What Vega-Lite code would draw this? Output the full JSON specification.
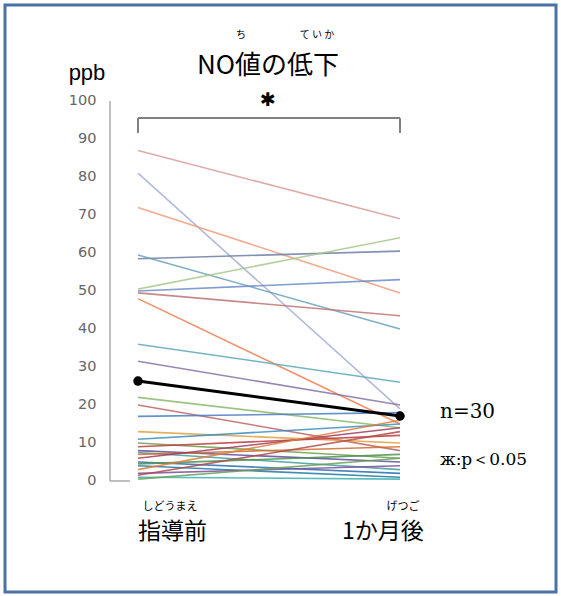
{
  "$schema": "https://vega.github.io/schema/vega-lite/v6.json",
  "width": 551,
  "height": 587,
  "autosize": {"type": "none"},
  "padding": {"left": 5, "top": 5, "right": 5, "bottom": 4},
  "background": "white",
  "config": {"view": {"stroke": "#4a72a6", "strokeWidth": 3}, "font": "Noto Sans CJK JP"},
  "datasets": {
    "subjects": [
      {"id": "s01", "t": 0, "v": 87}, {"id": "s01", "t": 1, "v": 69},
      {"id": "s02", "t": 0, "v": 81}, {"id": "s02", "t": 1, "v": 19},
      {"id": "s03", "t": 0, "v": 72}, {"id": "s03", "t": 1, "v": 49.5},
      {"id": "s04", "t": 0, "v": 58.5}, {"id": "s04", "t": 1, "v": 60.5},
      {"id": "s05", "t": 0, "v": 59.5}, {"id": "s05", "t": 1, "v": 40},
      {"id": "s06", "t": 0, "v": 50.5}, {"id": "s06", "t": 1, "v": 64},
      {"id": "s07", "t": 0, "v": 50}, {"id": "s07", "t": 1, "v": 53},
      {"id": "s08", "t": 0, "v": 49.5}, {"id": "s08", "t": 1, "v": 43.5},
      {"id": "s09", "t": 0, "v": 48}, {"id": "s09", "t": 1, "v": 15},
      {"id": "s10", "t": 0, "v": 36}, {"id": "s10", "t": 1, "v": 26},
      {"id": "s11", "t": 0, "v": 31.5}, {"id": "s11", "t": 1, "v": 20},
      {"id": "s12", "t": 0, "v": 22}, {"id": "s12", "t": 1, "v": 14},
      {"id": "s13", "t": 0, "v": 20}, {"id": "s13", "t": 1, "v": 8},
      {"id": "s14", "t": 0, "v": 17}, {"id": "s14", "t": 1, "v": 18},
      {"id": "s15", "t": 0, "v": 13}, {"id": "s15", "t": 1, "v": 10},
      {"id": "s16", "t": 0, "v": 11}, {"id": "s16", "t": 1, "v": 15},
      {"id": "s17", "t": 0, "v": 10}, {"id": "s17", "t": 1, "v": 6},
      {"id": "s18", "t": 0, "v": 9}, {"id": "s18", "t": 1, "v": 12},
      {"id": "s19", "t": 0, "v": 8}, {"id": "s19", "t": 1, "v": 5},
      {"id": "s20", "t": 0, "v": 7.5}, {"id": "s20", "t": 1, "v": 3},
      {"id": "s21", "t": 0, "v": 7}, {"id": "s21", "t": 1, "v": 9},
      {"id": "s22", "t": 0, "v": 6}, {"id": "s22", "t": 1, "v": 14},
      {"id": "s23", "t": 0, "v": 5}, {"id": "s23", "t": 1, "v": 2},
      {"id": "s24", "t": 0, "v": 4.5}, {"id": "s24", "t": 1, "v": 7},
      {"id": "s25", "t": 0, "v": 4}, {"id": "s25", "t": 1, "v": 1},
      {"id": "s26", "t": 0, "v": 3}, {"id": "s26", "t": 1, "v": 16},
      {"id": "s27", "t": 0, "v": 2}, {"id": "s27", "t": 1, "v": 4},
      {"id": "s28", "t": 0, "v": 1.5}, {"id": "s28", "t": 1, "v": 13},
      {"id": "s29", "t": 0, "v": 1}, {"id": "s29", "t": 1, "v": 0.5},
      {"id": "s30", "t": 0, "v": 0.5}, {"id": "s30", "t": 1, "v": 6}
    ],
    "mean": [{"t": 0, "v": 26.3}, {"t": 1, "v": 17.1}]
  },
  "layer": [
    {
      "data": {"name": "subjects"},
      "mark": {"type": "line", "strokeWidth": 1.6, "opacity": 0.85},
      "encoding": {
        "x": {"field": "t", "type": "quantitative", "scale": {"domain": [-0.50763, 1.59542], "nice": false, "zero": false}, "axis": null},
        "y": {"field": "v", "type": "quantitative", "scale": {"domain": [-29.2105, 125.263], "nice": false, "zero": false},
          "axis": {"values": [0, 10, 20, 30, 40, 50, 60, 70, 80, 90, 100], "title": null, "grid": false, "domain": false, "ticks": false, "tickSize": 0, "offset": -93, "labelPadding": 2, "labelFont": "DejaVu Sans", "labelFontSize": 14.5, "labelColor": "#666666"}},
        "color": {"field": "id", "type": "nominal", "legend": null,
          "scale": {"range": ["#d89c9c", "#a4acd4", "#f09c7c", "#6c7ca4", "#68a0b8", "#a8c88c", "#6c8cc8", "#c07474", "#f07c4c", "#5ca8b8", "#8474a4", "#8cb86c", "#bc6464", "#4c7cc0", "#e0a03c", "#3c8cc0", "#6ca04c", "#c03c3c", "#5c4c9c", "#3ca0a0", "#d06c2c", "#a03c5c", "#2c6cb0", "#4c904c", "#1c7ca0", "#e07c3c", "#7c4c9c", "#b04c4c", "#3cb0b0", "#6ca05c"]}}
      }
    },
    {
      "data": {"name": "mean"},
      "mark": {"type": "line", "color": "black", "strokeWidth": 3, "point": {"filled": true, "color": "black", "size": 90}},
      "encoding": {
        "x": {"field": "t", "type": "quantitative"},
        "y": {"field": "v", "type": "quantitative"}
      }
    },
    {
      "data": {"values": [{}]},
      "layer": [
        {"mark": {"type": "rule", "color": "#aaaaaa", "strokeWidth": 1.5}, "encoding": {"x": {"datum": -0.10687}, "y": {"datum": 0}, "y2": {"datum": 100}}},
        {"mark": {"type": "rule", "color": "#aaaaaa", "strokeWidth": 1.5}, "encoding": {"x": {"datum": -0.10687}, "x2": {"datum": -0.03053}, "y": {"datum": 0}}},
        {"mark": {"type": "rule", "color": "#808080", "strokeWidth": 2}, "encoding": {"x": {"datum": 0}, "x2": {"datum": 1}, "y": {"datum": 95.5}}},
        {"mark": {"type": "rule", "color": "#808080", "strokeWidth": 2}, "encoding": {"x": {"datum": 0}, "y": {"datum": 95.5}, "y2": {"datum": 91.6}}},
        {"mark": {"type": "rule", "color": "#808080", "strokeWidth": 2}, "encoding": {"x": {"datum": 1}, "y": {"datum": 95.5}, "y2": {"datum": 91.6}}},
        {"mark": {"type": "text", "text": "NO値の低下", "fontSize": 26, "baseline": "middle", "align": "center", "color": "black"}, "encoding": {"x": {"datum": 0.496}, "y": {"datum": 109.3}}},
        {"mark": {"type": "text", "text": "ち", "fontSize": 10, "baseline": "middle", "align": "center", "color": "black"}, "encoding": {"x": {"datum": 0.393}, "y": {"datum": 117.3}}},
        {"mark": {"type": "text", "text": "て い か", "fontSize": 10, "baseline": "middle", "align": "center", "color": "black"}, "encoding": {"x": {"datum": 0.683}, "y": {"datum": 117.3}}},
        {"mark": {"type": "text", "text": "ppb", "fontSize": 22, "font": "Liberation Sans", "baseline": "alphabetic", "align": "center", "color": "black"}, "encoding": {"x": {"datum": -0.1947}, "y": {"datum": 105.5}}},
        {"mark": {"type": "text", "text": "✱", "fontSize": 19, "font": "DejaVu Sans", "baseline": "middle", "align": "center", "color": "black"}, "encoding": {"x": {"datum": 0.496}, "y": {"datum": 100.3}}},
        {"mark": {"type": "text", "text": "指導前", "fontSize": 23, "baseline": "middle", "align": "left", "color": "black"}, "encoding": {"x": {"datum": 0}, "y": {"datum": -13.5}}},
        {"mark": {"type": "text", "text": "しどうまえ", "fontSize": 11, "baseline": "middle", "align": "center", "color": "black"}, "encoding": {"x": {"datum": 0.122}, "y": {"datum": -6.9}}},
        {"mark": {"type": "text", "text": "1か月後", "fontSize": 23, "baseline": "middle", "align": "center", "color": "black"}, "encoding": {"x": {"datum": 0.935}, "y": {"datum": -13.5}}},
        {"mark": {"type": "text", "text": "げつご", "fontSize": 11, "baseline": "middle", "align": "center", "color": "black"}, "encoding": {"x": {"datum": 1.011}, "y": {"datum": -6.9}}},
        {"mark": {"type": "text", "text": "n=30", "fontSize": 20, "font": "DejaVu Serif", "baseline": "middle", "align": "left", "color": "black"}, "encoding": {"x": {"datum": 1.1527}, "y": {"datum": 18.2}}},
        {"mark": {"type": "text", "text": "ж:p＜0.05", "fontSize": 17, "font": "DejaVu Serif", "baseline": "middle", "align": "left", "color": "black"}, "encoding": {"x": {"datum": 1.1527}, "y": {"datum": 5.5}}}
      ]
    }
  ]
}
